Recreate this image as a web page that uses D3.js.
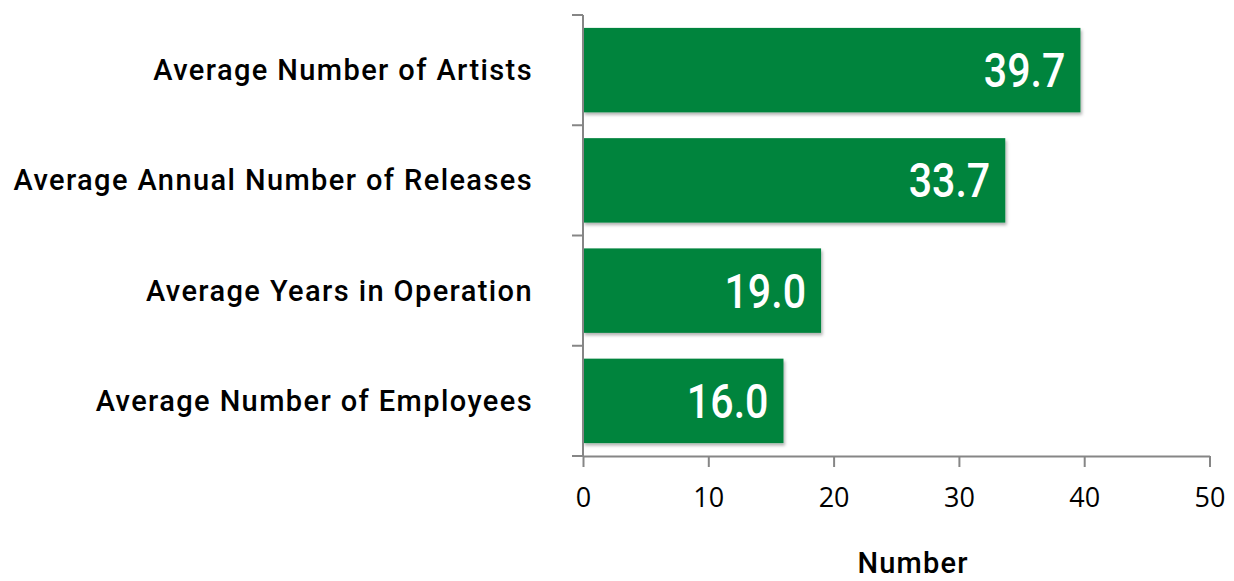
<!DOCTYPE html>
<html>
<head>
<meta charset="utf-8">
<script src="https://cdn.jsdelivr.net/npm/d3@7"></script>
<style>
  html, body { margin: 0; padding: 0; background: #fff; }
  svg { display: block; }
</style>
</head>
<body>
<svg id="chart" width="1234" height="581"></svg>
<script>
// Label survey averages
const categories = [
  "Average Number of Artists",
  "Average Annual Number of Releases",
  "Average Years in Operation",
  "Average Number of Employees"
];
const values = [39.7, 33.7, 19.0, 16.0];
const xTicks = [0, 10, 20, 30, 40, 50];
const xTitle = "Number";

const svg = d3.select("#chart");
const plot = { left: 583, right: 1209.5, top: 15, bottom: 456 };

const x = d3.scaleLinear().domain([0, 50]).range([plot.left, plot.right]);
const y = d3.scaleBand().domain(categories).range([plot.top, plot.bottom])
  .paddingInner(0.234).paddingOuter(0.117);

// soft shadow under the bars
const defs = svg.append("defs");
const f = defs.append("filter").attr("id", "shadow")
  .attr("x", "-5%").attr("y", "-10%").attr("width", "115%").attr("height", "130%");
f.append("feDropShadow").attr("dx", 1.5).attr("dy", 2.5).attr("stdDeviation", 1.5)
  .attr("flood-color", "#000").attr("flood-opacity", 0.3);

// bars
svg.append("g").selectAll("rect").data(values).join("rect")
  .attr("x", x(0))
  .attr("y", (d, i) => y(categories[i]))
  .attr("width", d => x(d) - x(0))
  .attr("height", y.bandwidth())
  .attr("fill", "#00843D")
  .attr("filter", "url(#shadow)");

// value labels inside bar ends
svg.append("g").selectAll("text").data(values).join("text")
  .attr("transform", (d, i) => `translate(${x(d) - 15},${y(categories[i]) + y.bandwidth() / 2 + 17}) scale(0.84,1)`)
  .attr("text-anchor", "end")
  .attr("font-family", "Roboto, sans-serif")
  .attr("font-weight", 500)
  .attr("font-size", 49)
  .attr("fill", "#fff")
  .text(d => d.toFixed(1));

// bottom axis
const xAxis = svg.append("g")
  .attr("transform", `translate(0,${plot.bottom})`)
  .call(d3.axisBottom(x).tickValues(xTicks).tickSize(11).tickSizeOuter(0).tickPadding(21));
xAxis.select(".domain").attr("stroke", "#868686").attr("stroke-width", 2);
xAxis.selectAll(".tick line").attr("stroke", "#868686").attr("stroke-width", 2);
xAxis.selectAll(".tick text")
  .attr("font-family", "'Open Sans', sans-serif")
  .attr("font-size", 27)
  .attr("fill", "#000");

// left axis with boundary ticks between categories
const bandEdges = categories.map(c => y(c) - y.step() * y.paddingInner() / 2).concat([plot.bottom]);
svg.append("line")
  .attr("x1", plot.left).attr("x2", plot.left)
  .attr("y1", plot.top).attr("y2", plot.bottom)
  .attr("stroke", "#868686").attr("stroke-width", 2);
svg.append("g").selectAll("line").data(bandEdges).join("line")
  .attr("x1", plot.left - 11).attr("x2", plot.left)
  .attr("y1", d => d).attr("y2", d => d)
  .attr("stroke", "#868686").attr("stroke-width", 2);

// category labels
svg.append("g").selectAll("text").data(categories).join("text")
  .attr("x", 533)
  .attr("y", d => y(d) + y.bandwidth() / 2 + 10)
  .attr("text-anchor", "end")
  .attr("font-family", "Roboto, sans-serif")
  .attr("font-weight", 500)
  .attr("font-size", 29)
  .attr("letter-spacing", 1.4)
  .attr("fill", "#000")
  .text(d => d);

// axis title
svg.append("text")
  .attr("x", 913)
  .attr("y", 573)
  .attr("text-anchor", "middle")
  .attr("font-family", "Roboto, sans-serif")
  .attr("font-weight", 500)
  .attr("font-size", 29)
  .attr("letter-spacing", 1.2)
  .attr("fill", "#000")
  .text(xTitle);
</script>
</body>
</html>
